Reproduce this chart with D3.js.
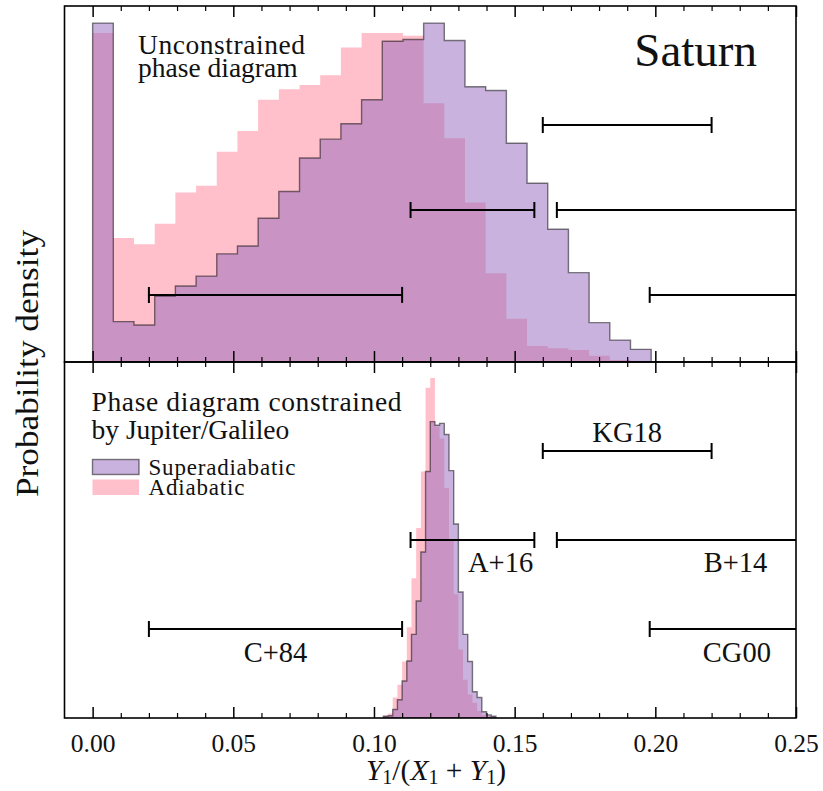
<!DOCTYPE html>
<html>
<head>
<meta charset="utf-8">
<script src="https://cdn.jsdelivr.net/npm/d3@7/dist/d3.min.js"></script>
<style>
  html, body { margin: 0; padding: 0; background: #fff; }
  svg { display: block; }
  svg text { font-family: "Liberation Serif", "Times New Roman", Tinos, "DejaVu Serif", serif; fill: #111; }
</style>
</head>
<body>
<svg id="chart" width="823" height="791" font-family="Liberation Serif, Times New Roman, serif"></svg>
<script>
// ---- Data -------------------------------------------------------------
// Histogram bins: 34 equal bins on [0, 0.25] (top) and 150 on [0, 0.25] (bottom)
const topBinCount = 34;
const topStartBin = 0;
// Unconstrained phase diagram: probability density per bin
const topSuperadiabatic = [9.90, 1.18, 1.08, 1.93, 2.22, 2.51, 3.16, 3.39, 4.20, 4.98,
  5.96, 6.51, 6.96, 7.66, 9.37, 9.42, 9.90, 9.39, 8.04, 7.93,
  6.39, 5.22, 3.88, 2.61, 1.15, 0.64, 0.37];
const topAdiabatic = [9.61, 3.62, 3.44, 4.04, 4.95, 5.15, 6.14, 6.75, 7.66, 7.97,
  8.09, 8.38, 9.19, 9.61, 9.61, 9.53, 7.56, 6.54, 4.66, 2.59,
  1.26, 0.47, 0.40, 0.35, 0.18, 0.06, 0.03];

// Phase diagram constrained by Jupiter/Galileo
const botBinCount = 150;
const botStartBin = 62;
const botSuperadiabatic = [0.4, 0.5, 1.9, 4.1, 8.3, 12.8, 18.8, 26.3, 37.3, 55.4,
  66.6, 65.8, 66.2, 63.7, 55.6, 43.6, 28.3, 18.8, 12.7, 5.9,
  4.6, 1.4, 0.7, 0.4];
const botAdiabatic = [0.5, 1.0, 4.6, 7.5, 12.7, 20.4, 31.4, 42.7, 55.4, 74.2,
  76.4, 65.5, 62.8, 51.7, 40.2, 27.8, 15.4, 8.6, 5.3, 3.4,
  1.6, 0.7, 0.4];

// Literature estimates of Y1/(X1+Y1): lower and upper bounds
const refNames = ["KG18", "A+16", "B+14", "C+84", "CG00"];
const refLow  = [0.160, 0.113, 0.165, 0.020, 0.198];
const refHigh = [0.220, 0.157, 0.300, 0.110, 0.300];

// Axis ticks
const xMajorTicks = [0.00, 0.05, 0.10, 0.15, 0.20, 0.25];
const xTickLabels = ["0.00", "0.05", "0.10", "0.15", "0.20", "0.25"];
const xMinorTicks = [0.01, 0.02, 0.03, 0.04, 0.06, 0.07, 0.08, 0.09, 0.11, 0.12,
  0.13, 0.14, 0.16, 0.17, 0.18, 0.19, 0.21, 0.22, 0.23, 0.24];

// ---- Layout -----------------------------------------------------------
const SERIF = "'Liberation Serif', 'Times New Roman', Tinos, serif";
const L = 64.5, R = 796, T = 6, MID = 362, B = 718;
const svg = d3.select("#chart");
svg.append("rect").attr("width", 823).attr("height", 791).attr("fill", "#fff");

const x = d3.scaleLinear().domain([-0.01, 0.25]).range([L, R]);
const yTop = d3.scaleLinear().domain([0, 10.4]).range([MID, T]);
const yBot = d3.scaleLinear().domain([0, 80]).range([B, MID]);

// vertical placement of the reference bars in each panel (density units)
const refLevelTop = [6.92, 4.44, 4.44, 1.96, 1.96];
const refLevelBot = [60, 40, 40, 20, 20];
// label anchors in the lower panel
const refLabelX = [0.19, 0.145, 0.2285, 0.065, 0.229];
const refLabelY = [62, 32.8, 32.8, 12.6, 12.6];

const PINK = "#ffc0cb";
const PURPLE = "#9467bd";

const defs = svg.append("defs");
defs.append("clipPath").attr("id", "clipTop").append("rect")
  .attr("x", L).attr("y", T).attr("width", R - L).attr("height", MID - T);
defs.append("clipPath").attr("id", "clipBot").append("rect")
  .attr("x", L).attr("y", MID).attr("width", R - L).attr("height", B - MID);

function stepPoints(binCount, startBin, vals) {
  const w = 0.25 / binCount;
  const x0 = startBin * w;
  const pts = [[x0, 0]];
  vals.forEach((v, i) => {
    pts.push([x0 + i * w, v]);
    pts.push([x0 + (i + 1) * w, v]);
  });
  pts.push([x0 + vals.length * w, 0]);
  return pts;
}

function drawPanel(clipId, yScale, binCount, startBin, adiab, superad) {
  const g = svg.append("g").attr("clip-path", `url(#${clipId})`);
  const line = d3.line().x(d => x(d[0])).y(d => yScale(d[1]));
  g.append("path")
    .attr("d", line(stepPoints(binCount, startBin, adiab)) + "Z")
    .attr("fill", PINK);
  g.append("path")
    .attr("d", line(stepPoints(binCount, startBin, superad)) + "Z")
    .attr("fill", PURPLE).attr("fill-opacity", 0.5)
    .attr("stroke", "#000").attr("stroke-opacity", 0.5)
    .attr("stroke-width", 1.4).attr("stroke-linejoin", "miter");
  return g;
}

function drawRefBars(g, yScale, levels) {
  const cap = 8;
  refNames.forEach((name, i) => {
    const yy = yScale(levels[i]);
    const bar = g.append("g").attr("stroke", "#000").attr("stroke-width", 2);
    bar.append("line").attr("x1", x(refLow[i])).attr("x2", x(refHigh[i]))
      .attr("y1", yy).attr("y2", yy);
    [refLow[i], refHigh[i]].forEach(v => {
      bar.append("line").attr("x1", x(v)).attr("x2", x(v))
        .attr("y1", yy - cap).attr("y2", yy + cap);
    });
  });
}

const gTop = drawPanel("clipTop", yTop, topBinCount, topStartBin, topAdiabatic, topSuperadiabatic);
drawRefBars(gTop, yTop, refLevelTop);
const gBot = drawPanel("clipBot", yBot, botBinCount, botStartBin, botAdiabatic, botSuperadiabatic);
drawRefBars(gBot, yBot, refLevelBot);

function label(sel) {
  return sel.attr("font-family", SERIF).style("font-family", SERIF);
}

// reference labels (lower panel)
refNames.forEach((name, i) => {
  label(svg.append("text")).attr("x", x(refLabelX[i])).attr("y", yBot(refLabelY[i]))
    .attr("text-anchor", "middle").attr("font-size", 28.5).text(name);
});

// ---- Axes: ticks point inward on every horizontal spine -----------------
function tickRow(yPos, dir) {
  // dir = +1 ticks go down, -1 ticks go up
  const major = dir > 0 ? d3.axisBottom(x) : d3.axisTop(x);
  svg.append("g").attr("transform", `translate(0,${yPos})`)
    .call(major.tickValues(xMajorTicks).tickSize(11).tickFormat(""))
    .call(g => g.select(".domain").remove())
    .call(g => g.selectAll("line").attr("stroke", "#000").attr("stroke-width", 1.5));
  const minor = dir > 0 ? d3.axisBottom(x) : d3.axisTop(x);
  svg.append("g").attr("transform", `translate(0,${yPos})`)
    .call(minor.tickValues(xMinorTicks).tickSize(5).tickFormat(""))
    .call(g => g.select(".domain").remove())
    .call(g => g.selectAll("line").attr("stroke", "#000").attr("stroke-width", 1.2));
}
tickRow(T, +1);
tickRow(MID, -1);
tickRow(MID, +1);
tickRow(B, -1);

// tick labels
svg.append("g").attr("transform", `translate(0,${B})`)
  .call(d3.axisBottom(x).tickValues(xMajorTicks).tickSize(0).tickPadding(0)
    .tickFormat((d, i) => xTickLabels[i]))
  .attr("font-family", SERIF)
  .call(g => g.select(".domain").remove())
  .call(g => g.selectAll("text").attr("dy", null).attr("y", 34)
    .attr("font-size", 25.5).attr("fill", "#111")
    .attr("font-family", SERIF).style("font-family", SERIF));

// frames
[[T, MID], [MID, B]].forEach(([y0, y1]) => {
  svg.append("rect").attr("x", L).attr("y", y0).attr("width", R - L).attr("height", y1 - y0)
    .attr("fill", "none").attr("stroke", "#000").attr("stroke-width", 1.6);
});

// ---- Text ---------------------------------------------------------------
label(svg.append("text")).attr("x", 757).attr("y", 66).attr("text-anchor", "end")
  .attr("font-size", 47).text("Saturn");

const topNote = label(svg.append("text")).attr("font-size", 27.5);
topNote.append("tspan").attr("x", 138).attr("y", 54).attr("textLength", 167).text("Unconstrained");
topNote.append("tspan").attr("x", 138).attr("y", 77).text("phase diagram");

const botNote = label(svg.append("text")).attr("font-size", 27.5);
botNote.append("tspan").attr("x", 91.5).attr("y", 411).attr("textLength", 310).text("Phase diagram constrained");
botNote.append("tspan").attr("x", 91.5).attr("y", 438.5).text("by Jupiter/Galileo");

// legend
const legend = svg.append("g");
legend.append("rect").attr("x", 92.5).attr("y", 459.5).attr("width", 46.5).attr("height", 15)
  .attr("fill", PURPLE).attr("fill-opacity", 0.5)
  .attr("stroke", "#000").attr("stroke-opacity", 0.5).attr("stroke-width", 1.4);
label(legend.append("text")).attr("x", 148.5).attr("y", 474.5).attr("font-size", 23)
  .attr("textLength", 147).text("Superadiabatic");
legend.append("rect").attr("x", 92.5).attr("y", 479.5).attr("width", 46.5).attr("height", 15.5)
  .attr("fill", PINK);
label(legend.append("text")).attr("x", 148.5).attr("y", 495).attr("font-size", 23)
  .attr("textLength", 96).text("Adiabatic");

// axis titles
label(svg.append("text")).attr("transform", "translate(38,363.5) rotate(-90)")
  .attr("text-anchor", "middle").attr("font-size", 31)
  .attr("textLength", 267).attr("lengthAdjust", "spacingAndGlyphs")
  .text("Probability density");

const xl = label(svg.append("text")).attr("x", 436).attr("y", 780)
  .attr("text-anchor", "middle").attr("font-size", 29.5);
xl.append("tspan").attr("font-style", "italic").text("Y");
xl.append("tspan").attr("font-size", 20).attr("dy", 4).text("1");
xl.append("tspan").attr("dy", -4).text("/(");
xl.append("tspan").attr("font-style", "italic").text("X");
xl.append("tspan").attr("font-size", 20).attr("dy", 4).text("1");
xl.append("tspan").attr("dy", -4).text(" + ");
xl.append("tspan").attr("font-style", "italic").text("Y");
xl.append("tspan").attr("font-size", 20).attr("dy", 4).text("1");
xl.append("tspan").attr("dy", -4).text(")");
</script>
</body>
</html>
